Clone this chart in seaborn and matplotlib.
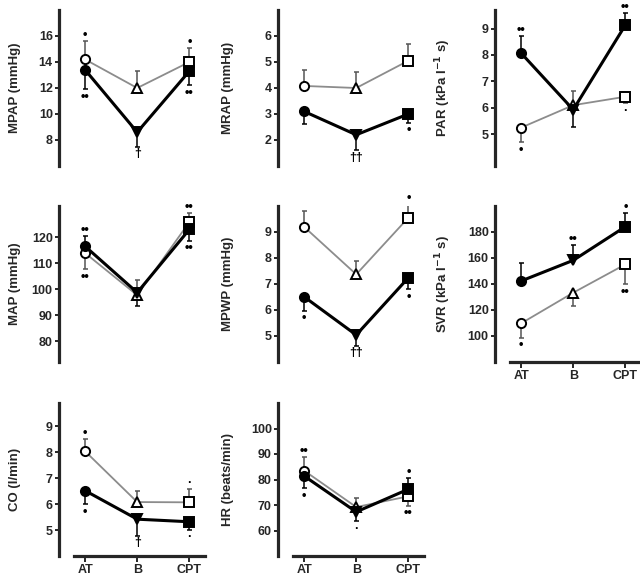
import numpy as np
import pandas as pd
import matplotlib
matplotlib.use("Agg")
import matplotlib.pyplot as plt
import seaborn as sns

# Valeurs (AT, B, CPT)
times = ["AT", "B", "CPT"]

# rempli = trait noir, ouvert = trait gris ; erreur signée (+ haut, - bas)
mpap_f = [13.4, 8.6, 13.3]
mpap_f_err = [-1.5, -1.1, -1.1]
mpap_f_sig = ["••", "†", "••"]
mpap_o = [14.2, 12.0, 14.0]
mpap_o_err = [1.4, 1.3, 1.1]
mpap_o_sig = ["•", "", "•"]

mrap_f = [3.1, 2.2, 3.0]
mrap_f_err = [-0.5, -0.6, -0.35]
mrap_f_sig = ["", "††", "•"]
mrap_o = [4.08, 4.0, 5.05]
mrap_o_err = [0.6, 0.63, 0.65]
mrap_o_sig = ["", "", ""]

par_f = [8.07, 5.93, 9.13]
par_f_err = [0.63, -0.66, 0.47]
par_f_sig = ["••", "", "••"]
par_o = [5.25, 6.1, 6.42]
par_o_err = [-0.55, 0.55, -0.25]
par_o_sig = ["•", "", "·"]

map_f = [116.5, 98.7, 123.0]
map_f_err = [4.1, -5.2, -4.3]
map_f_sig = ["••", "", "••"]
map_o = [113.9, 97.7, 125.8]
map_o_err = [-6.2, 5.8, 3.6]
map_o_sig = ["••", "", "••"]

mpwp_f = [6.51, 5.04, 7.24]
mpwp_f_err = [-0.55, -0.42, -0.44]
mpwp_f_sig = ["•", "††", "•"]
mpwp_o = [9.2, 7.37, 9.55]
mpwp_o_err = [0.6, 0.51, 0.51]
mpwp_o_sig = ["", "", "•"]

svr_f = [142.3, 158.2, 184.1]
svr_f_err = [14.1, 11.5, 10.8]
svr_f_sig = ["", "••", "•"]
svr_o = [109.7, 133.3, 155.1]
svr_o_err = [-11.0, -10.2, -15.4]
svr_o_sig = ["•", "", "••"]

co_f = [6.52, 5.42, 5.32]
co_f_err = [-0.52, -0.64, -0.3]
co_f_sig = ["•", "†", "·"]
co_o = [8.04, 6.08, 6.07]
co_o_err = [0.47, 0.42, 0.5]
co_o_sig = ["•", "", "·"]

hr_f = [81.4, 67.3, 76.2]
hr_f_err = [-4.8, -3.7, 4.3]
hr_f_sig = ["•", "·", "•"]
hr_o = [83.5, 69.2, 73.4]
hr_o_err = [5.5, 3.5, -3.7]
hr_o_sig = ["••", "", "••"]

sns.set_theme(style="ticks")
plt.rcParams["font.family"] = ["Liberation Sans", "DejaVu Sans"]
plt.rcParams["font.weight"] = "bold"
plt.rcParams["axes.labelweight"] = "bold"
plt.rcParams["mathtext.default"] = "bf"

W, H = 640, 580
fig = plt.figure(figsize=(6.4, 5.8), dpi=100)

col_left = [59, 278, 495]
label_x = [-0.26, -0.30, -0.29]
rows = [(10, 166), (206, 362), (403, 556)]
ax_w = 146

panels = [
    (0, 0, "MPAP (mmHg)", (6, 18), [8, 10, 12, 14, 16], mpap_f, mpap_f_err, mpap_f_sig, mpap_o, mpap_o_err, mpap_o_sig, False),
    (0, 1, "MRAP (mmHg)", (1, 7), [2, 3, 4, 5, 6], mrap_f, mrap_f_err, mrap_f_sig, mrap_o, mrap_o_err, mrap_o_sig, False),
    (0, 2, r"PAR (kPa l$^{-1}$ s)", (3.8, 9.7), [5, 6, 7, 8, 9], par_f, par_f_err, par_f_sig, par_o, par_o_err, par_o_sig, False),
    (1, 0, "MAP (mmHg)", (72, 132), [80, 90, 100, 110, 120], map_f, map_f_err, map_f_sig, map_o, map_o_err, map_o_sig, False),
    (1, 1, "MPWP (mmHg)", (4, 10), [5, 6, 7, 8, 9], mpwp_f, mpwp_f_err, mpwp_f_sig, mpwp_o, mpwp_o_err, mpwp_o_sig, False),
    (1, 2, r"SVR (kPa l$^{-1}$ s)", (80, 200), [100, 120, 140, 160, 180], svr_f, svr_f_err, svr_f_sig, svr_o, svr_o_err, svr_o_sig, True),
    (2, 0, "CO (l/min)", (4, 9.9), [5, 6, 7, 8, 9], co_f, co_f_err, co_f_sig, co_o, co_o_err, co_o_sig, True),
    (2, 1, "HR (beats/min)", (50, 110), [60, 70, 80, 90, 100], hr_f, hr_f_err, hr_f_sig, hr_o, hr_o_err, hr_o_sig, True),
]


def draw_series(ax, vals, err, sig, filled):
    x = np.arange(3)
    df = pd.DataFrame({"t": x, "v": vals})
    if filled:
        sns.lineplot(data=df, x="t", y="v", ax=ax, color="black", lw=2.2, zorder=3)
        markers, face, ecol = ["o", "v", "s"], "black", "black"
    else:
        sns.lineplot(data=df, x="t", y="v", ax=ax, color="#8c8c8c", lw=1.3, zorder=2)
        markers, face, ecol = ["o", "^", "s"], "white", "#555555"
    for i in range(3):
        e = err[i]
        yerr = [[-e], [0]] if e < 0 else [[0], [e]]
        ax.errorbar([i], [vals[i]], yerr=yerr, fmt="none", ecolor=ecol,
                    elinewidth=1.1, capsize=1.8, capthick=1.1, zorder=1)
        ax.plot([i], [vals[i]], marker=markers[i], ms=6.6, mfc=face, mec="black",
                mew=1.4, ls="none", zorder=5 if filled else 4, clip_on=False)
        if sig[i]:
            up = e > 0
            end = vals[i] + e
            ax.annotate(sig[i], (i, end), xytext=(0, 0 if up else -1),
                        textcoords="offset points", ha="center",
                        va="bottom" if up else "top", fontsize=9,
                        annotation_clip=False, color="black")


for r, c, label, ylim, yticks, f, fe, fs, o, oe, os_, xaxis in panels:
    top, bot = rows[r]
    ax = fig.add_axes([col_left[c] / W, 1 - bot / H, ax_w / W, (bot - top) / H])
    draw_series(ax, o, oe, os_, False)
    draw_series(ax, f, fe, fs, True)
    ax.set_xlim(-0.5, 2.3)
    ax.set_ylim(*ylim)
    ax.set_yticks(yticks)
    ax.set_yticklabels([str(t) for t in yticks], fontweight="bold", fontsize=9)
    ax.set_ylabel(label, fontsize=9.5, fontweight="bold")
    ax.yaxis.set_label_coords(label_x[c], 0.5)
    ax.tick_params(axis="y", width=1.4, length=3, pad=1.5)
    ax.spines["left"].set_linewidth(2.3)
    ax.spines["top"].set_visible(False)
    ax.spines["right"].set_visible(False)
    if xaxis:
        ax.spines["bottom"].set_linewidth(2.3)
        ax.spines["bottom"].set_bounds(-0.22, 2.3)
        ax.set_xticks([0, 1, 2])
        ax.set_xticklabels(times, fontweight="bold", fontsize=9)
        ax.tick_params(axis="x", width=1.4, length=4, pad=2)
    else:
        ax.spines["bottom"].set_visible(False)
        ax.set_xticks([])
    ax.set_xlabel("")
    ax.grid(False)

fig.savefig("out.png", dpi=100, facecolor="white")
